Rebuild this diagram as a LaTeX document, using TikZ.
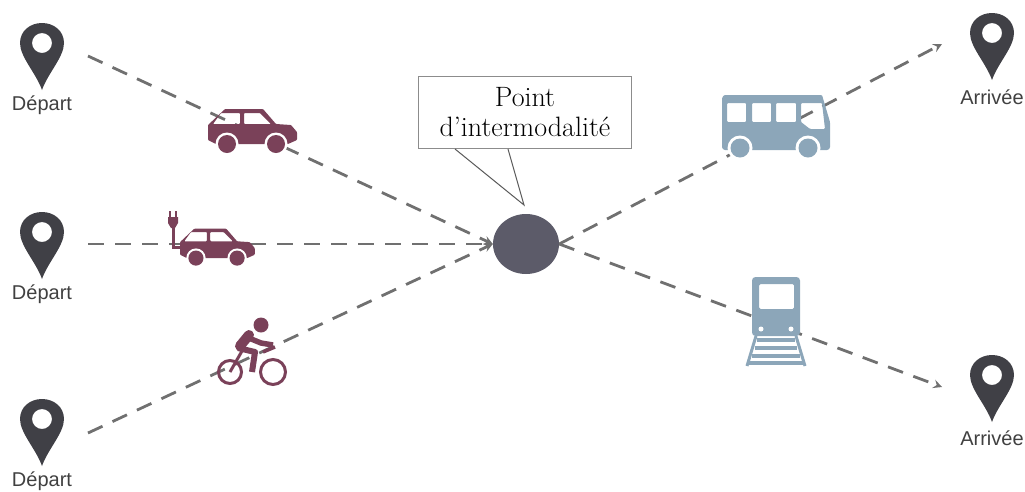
\documentclass[tikz,border=0pt]{standalone}
\usepackage{fontspec}
\newfontfamily\labelfont{Liberation Sans}
\usetikzlibrary{positioning, arrows, shapes.geometric}
\definecolor{pincolor}{HTML}{404046}
\definecolor{hubcolor}{HTML}{5C5B69}
\definecolor{linecolor}{HTML}{707070}
\definecolor{wine}{HTML}{7A4159}
\definecolor{steel}{HTML}{8CA6B9}
\tikzset{
    route/.style={line width=2.8pt, color=linecolor, dash pattern=on 16pt off 11pt},
    place/.style={font=\labelfont\fontsize{20}{20}\selectfont, text=black!75, inner sep=0pt},
    pin/.pic={
        \fill[pincolor, even odd rule] (0,47) .. controls (-6,30) and (-22,14) .. (-22,0)
            .. controls (-22,-12) and (-12,-20) .. (0,-20)
            .. controls (12,-20) and (22,-12) .. (22,0)
            .. controls (22,14) and (6,30) .. (0,47) -- cycle
            (0,0) circle (10);
    },
    carpic/.pic={
        \fill[wine, even odd rule, rounded corners=0.8pt] (0,33) -- (0,18) -- (17,2) -- (55,2) -- (68,17)
            -- (83,18) -- (89,25) -- (89,33) -- (80,37) -- (8,37) -- cycle
            (5,17) -- (13,6) -- (32,6) -- (32,17) -- cycle
            (36,6) -- (52,6) -- (63,17) -- (36,17) -- cycle;
        \foreach \wheelx in {19,68} {
            \fill[white] (\wheelx,37) circle (11.5);
            \fill[wine] (\wheelx,37) circle (9);
        }
    },
    buspic/.pic={
        \fill[steel, even odd rule, rounded corners=1pt] (0,3) -- (2,0) -- (100,0) -- (108,27) -- (108,53) -- (106,55) -- (2,55) -- (0,53) -- cycle
            (5,8) -- (24,8) -- (24,27) -- (5,27) -- cycle
            (30,8) -- (49,8) -- (49,27) -- (30,27) -- cycle
            (54,8) -- (74,8) -- (74,27) -- (54,27) -- cycle
            (79,8) -- (100,8) -- (103,34) -- (88,34) -- (79,27) -- cycle;
        \foreach \wheelx in {18,86} {
            \fill[white] (\wheelx,53) circle (12.5);
            \fill[steel] (\wheelx,53) circle (9.5);
        }
    },
    trainpic/.pic={
        \fill[steel, even odd rule, rounded corners=1.5pt] (0,2) -- (2,0) -- (46,0) -- (48,2) -- (48,57) -- (46,59) -- (2,59) -- (0,57) -- cycle
            (7,7) -- (42,7) -- (42,32) -- (7,32) -- cycle;
        \fill[white] (9,52) circle (2.5) (39,52) circle (2.5);
        \draw[steel, line width=3pt] (4,59) -- (-5,89) (44,59) -- (53,89);
        \foreach \tiey/\tiehalf in {63/19,71/21,79/24,86/27} {
            \draw[steel, line width=3.5pt] (24-\tiehalf,\tiey) -- (24+\tiehalf,\tiey);
        }
    },
    bikepic/.pic={
        \draw[wine, line width=3pt] (0,0) circle (11.5) (43,0) circle (12.5);
        \fill[wine] (31,-47) circle (7.5);
        \draw[wine, line width=10pt, line join=round, line cap=round] (10,-26) -- (19,-37);
        \draw[wine, line width=5.5pt, line join=round] (14,-36) -- (31,-29) -- (43,-27);
        \draw[wine, line width=6pt, line join=round] (8,-24) -- (25,-20) -- (22,0);
        \draw[wine, line width=3.5pt] (33,-20) -- (45,-25);
        \draw[wine, line width=3pt] (0,0) -- (12,-21);
    },
    plugpic/.pic={
        \fill[wine] (-5,-6) -- (5,-6) -- (5,0) -- (2,5) -- (-2,5) -- (-5,0) -- cycle;
        \draw[wine, line width=2pt] (-3,-6) -- (-3,-12) (3,-6) -- (3,-12);
        \draw[wine, line width=3pt] (0,4) -- (0,24) -- (8,24);
    }
}

\begin{document}
\begin{tikzpicture}[x=1pt, y=-1pt, >=stealth]
        \useasboundingbox (0,0) rectangle (1025,491);

        \node (hub) [ellipse, fill=hubcolor, inner sep=0pt, minimum width=66pt, minimum height=60pt] at (526,244) {};

        \coordinate (startA) at (88,56);
        \coordinate (startB) at (88,244);
        \coordinate (startC) at (88,433);
        \coordinate (endA) at (942,44);
        \coordinate (endB) at (942,387);

        \draw[route, ->] (startA) -- (hub.west);
        \draw[route, ->] (startB) -- (hub.west);
        \draw[route, ->] (startC) -- (hub.west);
        \draw[route, ->] (hub.east) -- (endA);
        \draw[route, ->] (hub.east) -- (endB);

        \pic at (42,43) {pin};
        \pic at (42,232) {pin};
        \pic at (42,419) {pin};
        \pic at (992,33) {pin};
        \pic at (992,375) {pin};

        \node (departA) [place] at (42,105) {Départ};
        \node (departB) [place] at (42,294) {Départ};
        \node (departC) [place] at (42,481) {Départ};
        \node (arriveeA) [place] at (992,97) {Arrivée};
        \node (arriveeB) [place] at (992,438) {Arrivée};

        \pic at (208,107) {carpic};
        \pic[scale=0.84] at (180,227) {carpic};
        \pic at (173,223) {plugpic};
        \pic at (230,372) {bikepic};
        \pic at (722,95) {buspic};
        \pic at (752,277) {trainpic};

        \node (callout) [draw=black!45, line width=1.5pt, fill=white, align=center, inner sep=0pt,
            minimum width=213pt, minimum height=72pt, font=\fontsize{28}{30}\selectfont] at (525,112.5)
            {\raisebox{-2pt}{Point}\\\raisebox{-2pt}{d'intermodalité}};
        \coordinate (tailA) at (455,149);
        \coordinate (tailB) at (508,149);
        \coordinate (tailtip) at (524,205);
        \draw[black!65, line width=1pt] (tailA) -- (tailtip) -- (tailB);
\end{tikzpicture}
\end{document}
